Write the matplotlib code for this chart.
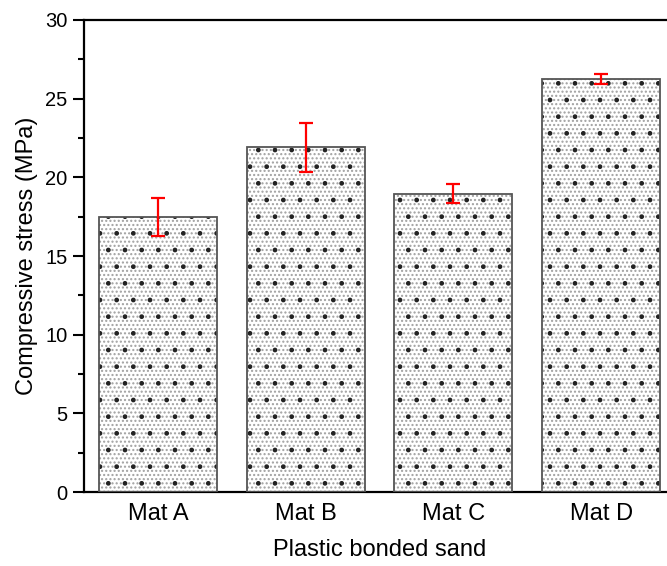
import matplotlib
matplotlib.use('Agg')
import matplotlib.pyplot as plt
import numpy as np
from matplotlib.ticker import MultipleLocator

materials = ['Mat A', 'Mat B', 'Mat C', 'Mat D']
stress = [17.5, 21.9, 18.95, 26.25]
stress_err = [1.2, 1.55, 0.6, 0.3]

plt.rcParams['font.family'] = ['Liberation Sans', 'DejaVu Sans']
plt.rcParams['hatch.linewidth'] = 1.0

fig = plt.figure(figsize=(6.67, 5.66), dpi=100)
ax = fig.add_axes([0.126, 0.1307, 0.886, 0.834])

x = np.arange(1, len(materials) + 1)

# stipple fill: fine grey dots + coarser dark dots
ax.bar(x, stress, width=0.8, color='white', edgecolor='#a0a0a0',
       hatch='....', linewidth=0, zorder=2)
ax.bar(x, stress, width=0.8, fill=False, edgecolor='#222222',
       hatch='.', linewidth=0, zorder=3)
ax.bar(x, stress, width=0.8, fill=False, edgecolor='#555555',
       linewidth=1.3, zorder=4)

ax.errorbar(x, stress, yerr=stress_err, fmt='none', ecolor='red',
            elinewidth=1.6, capsize=5, capthick=1.6, zorder=5)

ax.set_xlim(0.5, 4.5)
ax.set_ylim(0, 30)
ax.set_xticks(x)
ax.set_xticklabels(materials, fontsize=17)
ax.yaxis.set_major_locator(MultipleLocator(5))
ax.yaxis.set_minor_locator(MultipleLocator(2.5))
ax.tick_params(axis='x', length=0, pad=8)
ax.tick_params(axis='y', which='major', length=8, width=1.5, labelsize=14.5, pad=4)
ax.tick_params(axis='y', which='minor', length=4, width=1.5)

for s in ax.spines.values():
    s.set_linewidth(1.6)
ax.spines['right'].set_visible(False)

ax.set_xlabel('Plastic bonded sand', fontsize=17, labelpad=10)
ax.set_ylabel('Compressive stress (MPa)', fontsize=17, labelpad=5)

fig.savefig('out.png', dpi=100)
